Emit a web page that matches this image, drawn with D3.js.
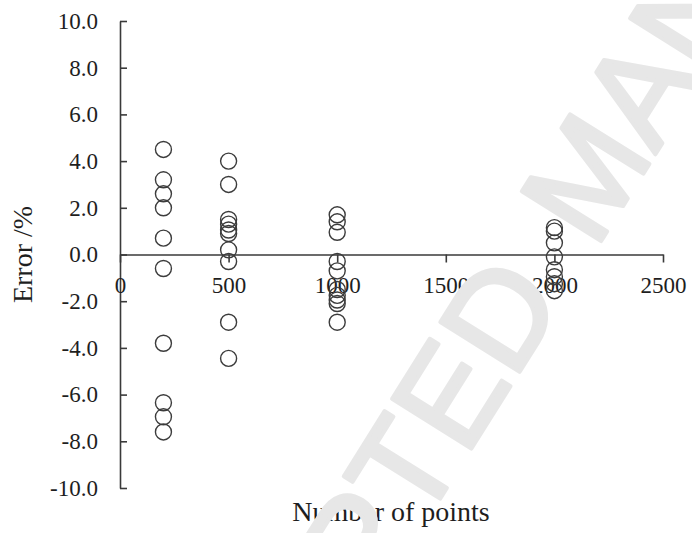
<!DOCTYPE html>
<html>
<head>
<meta charset="utf-8">
<script src="https://cdn.jsdelivr.net/npm/d3@7"></script>
<style>
  body { margin: 0; background: #fff; }
  svg { display: block; }
</style>
</head>
<body>
<div id="vis-container"></div>
<script>
// number of points used, and the errors (%) measured for each
var pointCounts = [200, 500, 1000, 2000];
var errors200  = [4.5, 3.2, 2.6, 2.0, 0.7, -0.6, -3.8, -6.35, -6.95, -7.6];
var errors500  = [4.0, 3.0, 1.5, 1.3, 1.05, 0.9, 0.2, -0.3, -2.9, -4.45];
var errors1000 = [1.7, 1.4, 0.95, -0.3, -0.7, -1.5, -1.75, -1.95, -2.1, -2.9];
var errors2000 = [1.15, 1.0, 0.5, -0.1, -0.65, -0.95, -1.25, -1.55];
var xTicks = [0, 500, 1000, 1500, 2000, 2500];
var yTicks = [-10, -8, -6, -4, -2, 0, 2, 4, 6, 8, 10];

var allErrors = [errors200, errors500, errors1000, errors2000];
var points = [];
for (var i = 0; i < pointCounts.length; i++) {
  for (var j = 0; j < allErrors[i].length; j++) {
    points.push({ n: pointCounts[i], err: allErrors[i][j] });
  }
}

var width = 692, height = 533;

var xScale = d3.scaleLinear().domain([0, 2500]).range([120, 663]);
var yScale = d3.scaleLinear().domain([-10, 10]).range([488, 21]);

var svg = d3.select("#vis-container")
  .append("svg")
    .attr("width", width)
    .attr("height", height);

var serif = "'Liberation Serif', 'Times New Roman', serif";

// plain hyphen for negatives, like the original
var fmt1 = function(d) { return d.toFixed(1); };

// y axis, ticks pointing into the plot
var yAxis = d3.axisLeft(yScale)
  .tickValues(yTicks)
  .tickSizeInner(-7)
  .tickSizeOuter(0)
  .tickPadding(22)
  .tickFormat(fmt1);

var yG = svg.append("g")
  .attr("transform", "translate(" + xScale(0) + ",0)")
  .call(yAxis);

// x axis crosses at zero
var xAxis = d3.axisBottom(xScale)
  .tickValues(xTicks)
  .tickSizeInner(8)
  .tickSizeOuter(0)
  .tickPadding(14)
  .tickFormat(function(d) { return String(d); });

var xG = svg.append("g")
  .attr("transform", "translate(0," + yScale(0) + ")")
  .call(xAxis);

[yG, xG].forEach(function(g) {
  g.selectAll("path, line").attr("stroke", "#3a3a3a").attr("stroke-width", 1.6);
  g.selectAll("text")
    .attr("fill", "#1e1e1e")
    .style("font-family", serif)
    .style("font-size", "23px");
});

// open circles
svg.append("g").selectAll("circle")
  .data(points)
  .enter()
  .append("circle")
    .attr("cx", function(d) { return xScale(d.n); })
    .attr("cy", function(d) { return yScale(d.err); })
    .attr("r", 8)
    .attr("fill", "none")
    .attr("stroke", "#3c3c3c")
    .attr("stroke-width", 1.4);

// axis titles
svg.append("text")
  .attr("transform", "translate(32," + yScale(0) + ") rotate(-90)")
  .attr("text-anchor", "middle")
  .attr("fill", "#1e1e1e")
  .style("font-family", serif)
  .style("font-size", "28px")
  .text("Error /%");

svg.append("text")
  .attr("x", 391)
  .attr("y", 521)
  .attr("text-anchor", "middle")
  .attr("fill", "#1e1e1e")
  .style("font-family", serif)
  .style("font-size", "28px")
  .text("Number of points");

// watermark over the chart
svg.append("text")
  .attr("transform", "translate(581,181) rotate(-58)")
  .attr("text-anchor", "middle")
  .attr("dy", "0.36em")
  .attr("fill", "#e7e7e7")
  .attr("stroke", "#e7e7e7")
  .attr("stroke-width", 4)
  .attr("stroke-linejoin", "round")
  .style("font-family", "'Liberation Sans', Arial, sans-serif")
  .style("font-size", "136px")
  .style("word-spacing", "18px")
  .text("ACCEPTED MANUSCRIPT");
</script>
</body>
</html>
